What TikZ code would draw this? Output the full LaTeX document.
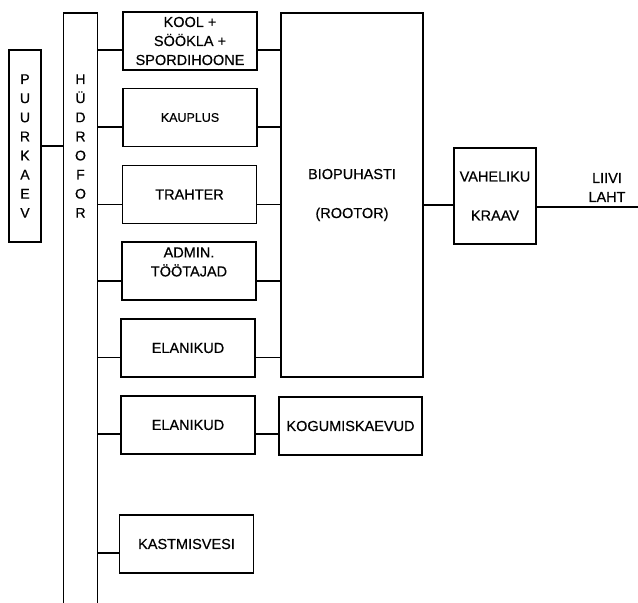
\documentclass[tikz,border=0pt]{standalone}
\usepackage{fontspec}
\setmainfont{Liberation Sans}[BoldFont={Liberation Sans},BoldFeatures={FakeBold=0.5}]
\newcommand\dgfont{\bfseries\fontsize{14.5}{19}\selectfont}
\newcommand\dgsmall{\bfseries\fontsize{12.5}{15}\selectfont}
\begin{document}
\begin{tikzpicture}[x=1pt,y=-1pt,line width=1.6pt,
  box/.style={draw,inner sep=0pt,minimum width=134pt,minimum height=58pt,align=center,font=\dgfont},
  txt/.style={inner sep=0pt,align=center,font=\dgfont},
  tall/.style={draw,inner sep=0pt,align=center,font=\bfseries\fontsize{14}{19.1}\selectfont}]
\useasboundingbox (0,0) rectangle (638,603);
\clip (0,0) rectangle (638,603);
% sources
\node[tall,minimum width=32pt,minimum height=192pt] (puur) at (25,146) {P\\U\\U\\R\\K\\A\\E\\V};
\node[draw,inner sep=0pt,minimum width=34pt,minimum height=620pt,anchor=north] (hud) at (80.5,12) {};
\node[txt,font=\bfseries\fontsize{14}{19.1}\selectfont] (hudtext) at (80.5,146) {H\\Ü\\D\\R\\O\\F\\O\\R};
% consumers
\node[box] (k1) at (190,41) {KOOL +\\SÖÖKLA +\\SPORDIHOONE};
\node[box,font=\dgsmall] (k2) at (190,117.5) {KAUPLUS};
\node[box] (k3) at (189.5,194.5) {TRAHTER};
\node[box] (k4) at (189,271) {};
\node[txt] (k4t) at (189,262) {ADMIN.\\TÖÖTAJAD};
\node[box] (k5) at (188,348) {ELANIKUD};
\node[box] (k6) at (188,425) {ELANIKUD};
\node[box] (k7) at (186.5,544) {KASTMISVESI};
% treatment
\node[draw,inner sep=0pt,minimum width=142pt,minimum height=364pt,align=center,font=\bfseries\fontsize{14.5}{39}\selectfont] (bio) at (352,195) {BIOPUHASTI\\(ROOTOR)};
\node[box,minimum width=143pt] (kog) at (350.5,426) {KOGUMISKAEVUD};
\node[draw,inner sep=0pt,minimum width=82pt,minimum height=96pt,align=center,font=\bfseries\fontsize{14.5}{39}\selectfont] (vah) at (495,196) {VAHELIKU\\KRAAV};
\node[txt] (liivi) at (607,187.5) {LIIVI\\LAHT};
\coordinate (edge) at (638,207);
% row coordinates
\coordinate (y0) at (0,146);
\coordinate (y1) at (0,50);
\coordinate (y2) at (0,127);
\coordinate (y3) at (0,204.5);
\coordinate (y4) at (0,281);
\coordinate (y5) at (0,357.5);
\coordinate (y6) at (0,434);
\coordinate (y7) at (0,553);
\coordinate (yv) at (0,205);
% connectors
\draw (puur.east |- y0) -- (hud.west |- y0);
\foreach \k/\r in {k1/y1,k2/y2,k3/y3,k4/y4,k5/y5,k6/y6,k7/y7}
  \draw (hud.east |- \r) -- (\k.west |- \r);
\foreach \k/\r in {k1/y1,k2/y2,k3/y3,k4/y4,k5/y5}
  \draw (\k.east |- \r) -- (bio.west |- \r);
\draw (k6.east |- y6) -- (kog.west |- y6);
\draw (bio.east |- yv) -- (vah.west |- yv);
\draw (vah.east |- edge) -- (edge);
\end{tikzpicture}
\end{document}
